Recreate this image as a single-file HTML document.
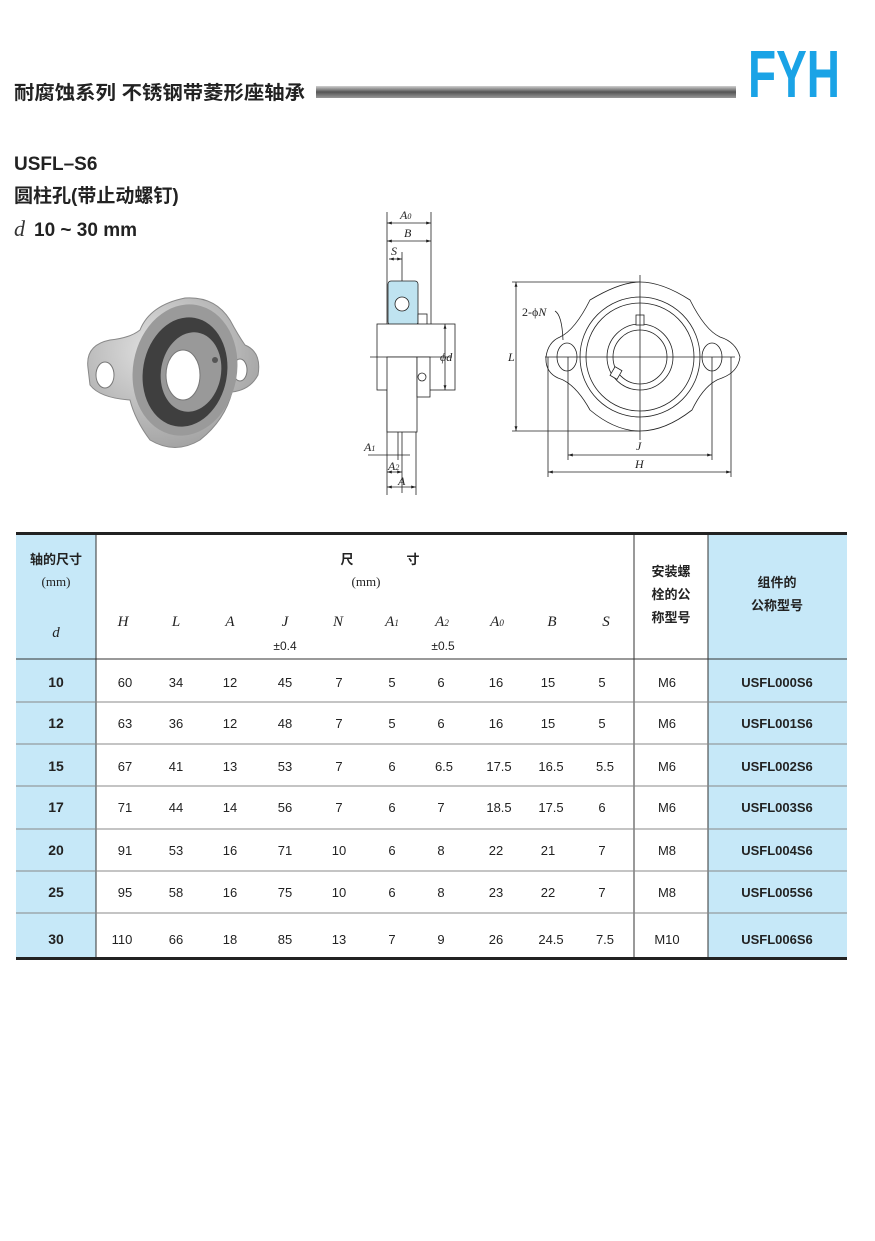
<!DOCTYPE html>
<html><head><meta charset="utf-8"><style>
html,body{margin:0;padding:0;background:#fff}
svg{display:block}
.cj{font-family:"Liberation Sans","Noto Sans CJK SC",sans-serif}
.it{font-family:"Liberation Serif",serif;font-style:italic}
</style></head><body>
<svg width="875" height="1241" viewBox="0 0 875 1241" xmlns="http://www.w3.org/2000/svg">
<defs>
<linearGradient id="bar" x1="0" y1="0" x2="0" y2="1">
<stop offset="0" stop-color="#d0d0d0"/><stop offset="0.5" stop-color="#555"/><stop offset="1" stop-color="#999"/>
</linearGradient>
<radialGradient id="metal" cx="0.4" cy="0.35" r="0.7">
<stop offset="0" stop-color="#e2e2e2"/><stop offset="1" stop-color="#a0a0a0"/>
</radialGradient>
<marker id="ar" viewBox="0 0 10 10" refX="10" refY="5" markerWidth="6" markerHeight="6" orient="auto-start-reverse"><path d="M0,2 L10,5 L0,8 Z" fill="#222"/></marker>
</defs>
<!-- header -->
<text x="14" y="99" class="cj" font-size="19" font-weight="bold" fill="#222" textLength="291" lengthAdjust="spacingAndGlyphs">耐腐蚀系列 不锈钢带菱形座轴承</text>
<rect x="316" y="86" width="420" height="12" fill="url(#bar)"/>
<text x="748" y="97" font-family="Liberation Sans,sans-serif" font-weight="bold" font-size="67" fill="#1aa3e6" textLength="92" lengthAdjust="spacingAndGlyphs">FYH</text>

<text x="14" y="170" font-family="Liberation Sans,sans-serif" font-weight="bold" font-size="19" fill="#222">USFL–S6</text>
<text x="14" y="202" class="cj" font-size="19" font-weight="bold" fill="#222">圆柱孔(带止动螺钉)</text>
<text x="14" y="236" class="it" font-size="22" fill="#333">d</text>
<text x="34" y="236" font-family="Liberation Sans,sans-serif" font-weight="bold" font-size="19" fill="#222">10 ~ 30 mm</text>

<!-- photo -->
<g>
<path d="M88,368 Q85,345 110,340 Q130,338 140,330 Q150,305 185,298 Q215,296 230,320 Q238,335 245,345 Q262,352 258,375 Q250,390 232,392 Q225,420 200,440 Q175,455 150,440 Q135,420 130,400 Q100,398 90,385 Z" fill="url(#metal)" stroke="#888"/>
<ellipse cx="105" cy="375" rx="9" ry="13" fill="#fff" stroke="#777"/>
<ellipse cx="240" cy="370" rx="7" ry="11" fill="#fff" stroke="#777"/>
<ellipse cx="185" cy="370" rx="52" ry="66" fill="#9a9a9a" transform="rotate(10 185 370)"/>
<ellipse cx="185" cy="372" rx="42" ry="55" fill="#3f3f3f" transform="rotate(10 185 372)"/>
<ellipse cx="191" cy="372" rx="30" ry="40" fill="#999" transform="rotate(10 191 372)"/>
<ellipse cx="183" cy="375" rx="17" ry="25" fill="#fff" stroke="#777"/>
<circle cx="215" cy="360" r="3" fill="#555"/>
</g>

<!-- side view -->
<g stroke="#222" stroke-width="0.8" fill="none">
<line x1="387" y1="212" x2="387" y2="495"/>
<line x1="431" y1="212" x2="431" y2="325"/>
<line x1="387" y1="223" x2="431" y2="223" marker-start="url(#ar)" marker-end="url(#ar)"/>
<line x1="387" y1="241" x2="431" y2="241" marker-start="url(#ar)" marker-end="url(#ar)"/>
<line x1="389" y1="259" x2="402" y2="259" marker-start="url(#ar)" marker-end="url(#ar)"/>
<line x1="402" y1="252" x2="402" y2="493"/>
<rect x="388" y="281" width="30" height="44" rx="3" fill="#bfe3f0"/>
<circle cx="402" cy="304" r="7" fill="#fff"/>
<rect x="418" y="314" width="9" height="12" fill="#fff"/>
<rect x="377" y="324" width="78" height="66" fill="#fff"/>
<line x1="370" y1="357" x2="452" y2="357"/>
<rect x="387" y="357" width="30" height="75" fill="#fff"/>
<rect x="417" y="357" width="13" height="40" fill="#fff"/>
<circle cx="422" cy="377" r="4"/>
<line x1="445" y1="324" x2="445" y2="390" marker-start="url(#ar)" marker-end="url(#ar)"/>
<line x1="368" y1="455" x2="410" y2="455"/>
<line x1="387" y1="472" x2="402" y2="472" marker-start="url(#ar)" marker-end="url(#ar)"/>
<line x1="387" y1="487" x2="416" y2="487" marker-start="url(#ar)" marker-end="url(#ar)"/>
<line x1="416" y1="432" x2="416" y2="495"/>
<line x1="398" y1="432" x2="398" y2="460"/>
</g>
<g font-family="Liberation Serif,serif" font-style="italic" font-size="12" fill="#222">
<text x="400" y="219">A<tspan font-size="8">0</tspan></text>
<text x="404" y="237">B</text>
<text x="391" y="255">S</text>
<text x="440" y="361">ϕd</text>
<text x="364" y="451">A<tspan font-size="8">1</tspan></text>
<text x="388" y="470">A<tspan font-size="8">2</tspan></text>
<text x="398" y="485">A</text>
</g>

<!-- front view -->
<g stroke="#222" stroke-width="0.8" fill="none">
<line x1="512" y1="282" x2="640" y2="282"/>
<line x1="512" y1="431" x2="640" y2="431"/>
<line x1="516" y1="282" x2="516" y2="431" marker-start="url(#ar)" marker-end="url(#ar)"/>
<path d="M590,300 Q620,282 640,282 Q662,282 690,300 Q705,330 720,337 Q736,342 740,357 Q738,372 722,378 Q705,383 692,410 Q665,431 640,431 Q615,431 590,410 Q575,383 558,378 Q545,372 546,357 Q548,342 560,337 Q575,330 590,300 Z" fill="#fff"/>
<circle cx="640" cy="357" r="60"/>
<circle cx="640" cy="357" r="54"/>
<circle cx="640" cy="357" r="33"/>
<circle cx="640" cy="357" r="27"/>
<ellipse cx="567" cy="357" rx="10" ry="14"/>
<ellipse cx="712" cy="357" rx="10" ry="14"/>
<rect x="636" y="315" width="8" height="10" fill="#fff"/>
<rect x="612" y="368" width="8" height="10" fill="#fff" transform="rotate(30 616 373)"/>
<line x1="545" y1="357" x2="735" y2="357"/>
<line x1="640" y1="275" x2="640" y2="440"/>
<line x1="568" y1="357" x2="568" y2="460"/>
<line x1="712" y1="357" x2="712" y2="460"/>
<line x1="548" y1="357" x2="548" y2="477"/>
<line x1="731" y1="357" x2="731" y2="477"/>
<line x1="568" y1="455" x2="712" y2="455" marker-start="url(#ar)" marker-end="url(#ar)"/>
<line x1="548" y1="472" x2="731" y2="472" marker-start="url(#ar)" marker-end="url(#ar)"/>
<path d="M555,311 Q562,315 563,340"/>
</g>
<g font-family="Liberation Serif,serif" font-style="italic" font-size="12" fill="#222">
<text x="522" y="316" font-style="normal">2-ϕ<tspan font-style="italic">N</tspan></text>
<text x="508" y="361">L</text>
<text x="636" y="450">J</text>
<text x="635" y="468">H</text>
</g>

<!-- table -->
<rect x="16" y="534" width="80" height="424" fill="#c6e8f8"/>
<rect x="708" y="534" width="139" height="424" fill="#c6e8f8"/>
<g stroke="#333" stroke-width="1">
<line x1="96" y1="534" x2="96" y2="958"/>
<line x1="634" y1="534" x2="634" y2="958"/>
<line x1="708" y1="534" x2="708" y2="958"/>
<line x1="16" y1="659" x2="847" y2="659"/>
<line x1="16" y1="702" x2="847" y2="702" stroke="#888"/>
<line x1="16" y1="744" x2="847" y2="744" stroke="#888"/>
<line x1="16" y1="786" x2="847" y2="786" stroke="#888"/>
<line x1="16" y1="829" x2="847" y2="829" stroke="#888"/>
<line x1="16" y1="871" x2="847" y2="871" stroke="#888"/>
<line x1="16" y1="913" x2="847" y2="913" stroke="#888"/>
</g>
<rect x="16" y="532" width="831" height="3" fill="#222"/>
<rect x="16" y="957" width="831" height="3" fill="#222"/>

<g class="cj" font-size="13" font-weight="bold" fill="#222" text-anchor="middle">
<text x="56" y="564">轴的尺寸</text>
<text x="347" y="564">尺</text><text x="413" y="564">寸</text>
<text x="671" y="576">安装螺</text><text x="671" y="599">栓的公</text><text x="671" y="622">称型号</text>
<text x="777" y="587">组件的</text><text x="777" y="610">公称型号</text>
</g>
<g font-family="Liberation Serif,serif" font-size="13" fill="#222" text-anchor="middle">
<text x="56" y="586">(mm)</text>
<text x="366" y="586">(mm)</text>
<g font-style="italic" font-size="15">
<text x="56" y="637">d</text>
<text x="123" y="626">H</text><text x="176" y="626">L</text><text x="230" y="626">A</text><text x="285" y="626">J</text><text x="338" y="626">N</text>
<text x="392" y="626">A<tspan font-size="9">1</tspan></text><text x="442" y="626">A<tspan font-size="9">2</tspan></text><text x="497" y="626">A<tspan font-size="9">0</tspan></text>
<text x="552" y="626">B</text><text x="606" y="626">S</text>
</g>
</g>
<g font-family="Liberation Sans,sans-serif" font-size="12" fill="#222" text-anchor="middle">
<text x="285" y="650">±0.4</text><text x="443" y="650">±0.5</text>
</g>

<g font-family="Liberation Sans,sans-serif" font-size="14" fill="#222" text-anchor="middle">
<g font-weight="bold"><text x="56" y="687">10</text><text x="56" y="728">12</text><text x="56" y="771">15</text><text x="56" y="812">17</text><text x="56" y="855">20</text><text x="56" y="897">25</text><text x="56" y="944">30</text></g>
<g font-size="13" font-weight="bold">
<text x="777" y="687">USFL000S6</text><text x="777" y="728">USFL001S6</text><text x="777" y="771">USFL002S6</text><text x="777" y="812">USFL003S6</text><text x="777" y="855">USFL004S6</text><text x="777" y="897">USFL005S6</text><text x="777" y="944">USFL006S6</text>
</g>
<g font-size="13">
<text x="667" y="687">M6</text><text x="667" y="728">M6</text><text x="667" y="771">M6</text><text x="667" y="812">M6</text><text x="667" y="855">M8</text><text x="667" y="897">M8</text><text x="667" y="944">M10</text>
<text y="687"><tspan x="125">60</tspan><tspan x="176">34</tspan><tspan x="230">12</tspan><tspan x="285">45</tspan><tspan x="339">7</tspan><tspan x="392">5</tspan><tspan x="441">6</tspan><tspan x="496">16</tspan><tspan x="548">15</tspan><tspan x="602">5</tspan></text>
<text y="728"><tspan x="125">63</tspan><tspan x="176">36</tspan><tspan x="230">12</tspan><tspan x="285">48</tspan><tspan x="339">7</tspan><tspan x="392">5</tspan><tspan x="441">6</tspan><tspan x="496">16</tspan><tspan x="548">15</tspan><tspan x="602">5</tspan></text>
<text y="771"><tspan x="125">67</tspan><tspan x="176">41</tspan><tspan x="230">13</tspan><tspan x="285">53</tspan><tspan x="339">7</tspan><tspan x="392">6</tspan><tspan x="444">6.5</tspan><tspan x="499">17.5</tspan><tspan x="551">16.5</tspan><tspan x="605">5.5</tspan></text>
<text y="812"><tspan x="125">71</tspan><tspan x="176">44</tspan><tspan x="230">14</tspan><tspan x="285">56</tspan><tspan x="339">7</tspan><tspan x="392">6</tspan><tspan x="441">7</tspan><tspan x="499">18.5</tspan><tspan x="551">17.5</tspan><tspan x="602">6</tspan></text>
<text y="855"><tspan x="125">91</tspan><tspan x="176">53</tspan><tspan x="230">16</tspan><tspan x="285">71</tspan><tspan x="339">10</tspan><tspan x="392">6</tspan><tspan x="441">8</tspan><tspan x="496">22</tspan><tspan x="548">21</tspan><tspan x="602">7</tspan></text>
<text y="897"><tspan x="125">95</tspan><tspan x="176">58</tspan><tspan x="230">16</tspan><tspan x="285">75</tspan><tspan x="339">10</tspan><tspan x="392">6</tspan><tspan x="441">8</tspan><tspan x="496">23</tspan><tspan x="548">22</tspan><tspan x="602">7</tspan></text>
<text y="944"><tspan x="122">110</tspan><tspan x="176">66</tspan><tspan x="230">18</tspan><tspan x="285">85</tspan><tspan x="339">13</tspan><tspan x="392">7</tspan><tspan x="441">9</tspan><tspan x="496">26</tspan><tspan x="551">24.5</tspan><tspan x="605">7.5</tspan></text>
</g>
</g>
</svg>
</body></html>
